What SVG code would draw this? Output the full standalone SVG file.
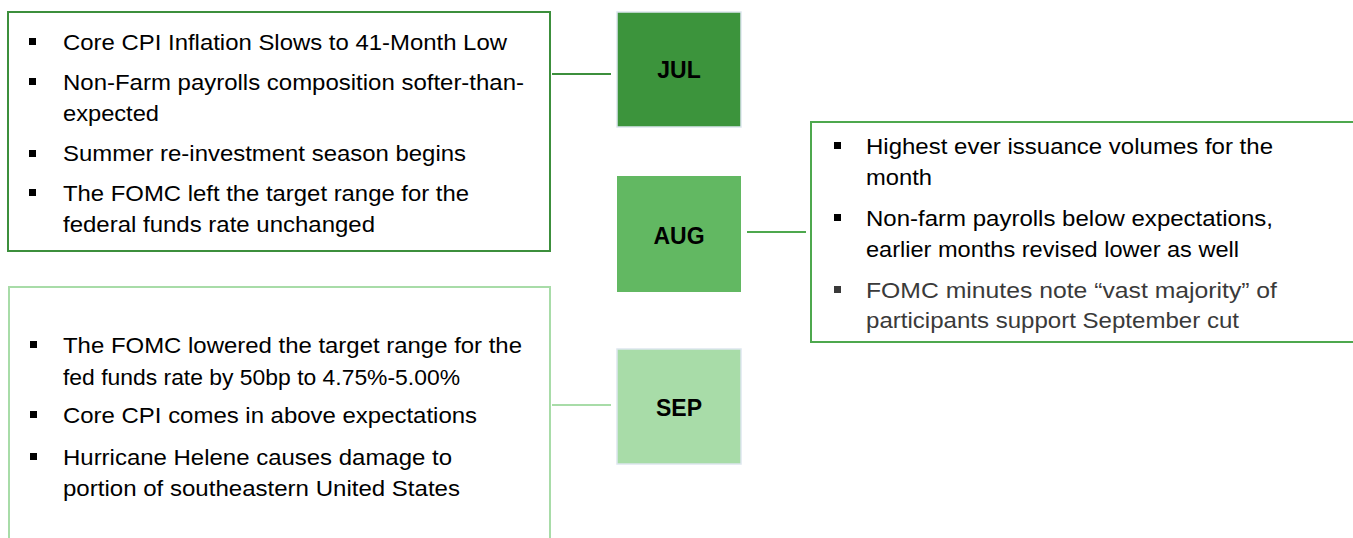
<svg xmlns="http://www.w3.org/2000/svg" width="1353" height="538" viewBox="0 0 1353 538">
<style>
.t{font-family:"Liberation Sans",Arial,sans-serif;font-size:22px;fill:#000}
.g{fill:#3a3a3a}
.m{font-family:"Liberation Sans",Arial,sans-serif;font-size:23px;font-weight:bold;fill:#000;text-anchor:middle}
.b{fill:#000}
.c{fill:none;stroke-width:2}
</style>
<rect width="1353" height="538" fill="#fff"/>
<g id="connectors">
<line x1="552" y1="74" x2="611" y2="74" stroke="#3c8f3c" stroke-width="2"/>
<line x1="747" y1="232" x2="806" y2="232" stroke="#4ea84e" stroke-width="2"/>
<line x1="552" y1="405" x2="611" y2="405" stroke="#a8dca8" stroke-width="2"/>
</g>
<g id="jul">
<rect x="617" y="12" width="124" height="115" fill="#3c943c" stroke="#dde6ee" stroke-width="1.5"/>
<text class="m" x="679" y="78">JUL</text>
</g>
<g id="aug">
<rect x="617" y="176" width="124" height="116" fill="#62b862"/>
<text class="m" x="679" y="244">AUG</text>
</g>
<g id="sep">
<rect x="617" y="349" width="124" height="115" fill="#a8dca8" stroke="#dde6ee" stroke-width="1.5"/>
<text class="m" x="679" y="416">SEP</text>
</g>
<g id="jul-notes">
<rect class="c" x="8" y="12" width="542" height="239" stroke="#3c8f3c"/>
<rect class="b" x="29" y="38" width="7" height="7"/>
<rect class="b" x="29" y="78" width="7" height="7"/>
<rect class="b" x="29" y="150" width="7" height="7"/>
<rect class="b" x="29" y="189" width="7" height="7"/>
<text class="t" x="63" y="50" textLength="444" lengthAdjust="spacingAndGlyphs">Core CPI Inflation Slows to 41-Month Low</text>
<text class="t" x="63" y="90" textLength="461" lengthAdjust="spacingAndGlyphs">Non-Farm payrolls composition softer-than-</text>
<text class="t" x="63" y="121" textLength="96" lengthAdjust="spacingAndGlyphs">expected</text>
<text class="t" x="63" y="161" textLength="403" lengthAdjust="spacingAndGlyphs">Summer re-investment season begins</text>
<text class="t" x="63" y="201" textLength="406" lengthAdjust="spacingAndGlyphs">The FOMC left the target range for the</text>
<text class="t" x="63" y="232" textLength="312" lengthAdjust="spacingAndGlyphs">federal funds rate unchanged</text>
</g>
<g id="aug-notes">
<rect class="c" x="811" y="122" width="545" height="220" stroke="#4ea84e"/>
<rect class="b" x="834" y="142" width="7" height="7"/>
<rect class="b" x="834" y="214" width="7" height="7"/>
<rect class="g" x="834" y="286" width="7" height="7"/>
<text class="t" x="866" y="154" textLength="407" lengthAdjust="spacingAndGlyphs">Highest ever issuance volumes for the</text>
<text class="t" x="866" y="185" textLength="66" lengthAdjust="spacingAndGlyphs">month</text>
<text class="t" x="866" y="226" textLength="407" lengthAdjust="spacingAndGlyphs">Non-farm payrolls below expectations,</text>
<text class="t" x="866" y="257" textLength="373" lengthAdjust="spacingAndGlyphs">earlier months revised lower as well</text>
<text class="t g" x="866" y="298" textLength="411" lengthAdjust="spacingAndGlyphs">FOMC minutes note “vast majority” of</text>
<text class="t g" x="866" y="328" textLength="373" lengthAdjust="spacingAndGlyphs">participants support September cut</text>
</g>
<g id="sep-notes">
<rect class="c" x="9" y="287" width="541" height="260" stroke="#a8dca8"/>
<rect class="b" x="30" y="341" width="7" height="7"/>
<rect class="b" x="30" y="411" width="7" height="7"/>
<rect class="b" x="30" y="453" width="7" height="7"/>
<text class="t" x="63" y="353" textLength="459" lengthAdjust="spacingAndGlyphs">The FOMC lowered the target range for the</text>
<text class="t" x="63" y="385" textLength="397" lengthAdjust="spacingAndGlyphs">fed funds rate by 50bp to 4.75%-5.00%</text>
<text class="t" x="63" y="423" textLength="414" lengthAdjust="spacingAndGlyphs">Core CPI comes in above expectations</text>
<text class="t" x="63" y="465" textLength="389" lengthAdjust="spacingAndGlyphs">Hurricane Helene causes damage to</text>
<text class="t" x="63" y="496" textLength="397" lengthAdjust="spacingAndGlyphs">portion of southeastern United States</text>
</g>
</svg>
